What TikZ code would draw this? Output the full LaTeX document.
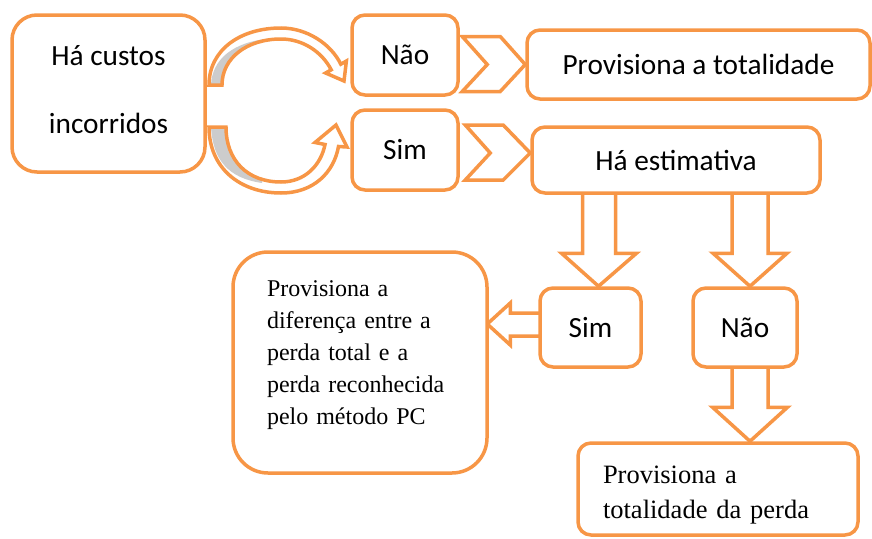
\documentclass[tikz,border=0pt]{standalone}
\usepackage{fontspec}
\newfontfamily\calibrifont{Carlito}
\newfontfamily\timesfont{Liberation Serif}
\usetikzlibrary{positioning,backgrounds}

\definecolor{boxorange}{HTML}{F79646}
\definecolor{sidegray}{HTML}{CCCCCC}

\tikzset{
  box/.style={draw=boxorange, line width=3.5pt, fill=white, rounded corners=13pt, inner sep=0pt},
  sans/.style={font=\calibrifont\fontsize{29.3}{34}\selectfont},
  rm/.style={font=\timesfont\fontsize{24}{32}\selectfont},
  blockarrow/.style={draw=boxorange, line width=3.5pt, fill=white, line join=miter},
  bandline/.style={draw=boxorange, line width=3.5pt, line join=miter},
}

\begin{document}
\begin{tikzpicture}[x=1pt,y=-1pt]
  \useasboundingbox (0,0) rectangle (872,538);

  \node[box, rounded corners=25pt, minimum width=193pt, minimum height=157pt, align=center,
        font=\calibrifont\fontsize{29.3}{68}\selectfont, text height=80pt] (costs) at (108.5,93.5) {Há custos\\incorridos};
  \node[box, sans, minimum width=106pt, minimum height=80pt] (naoTop) at (405,55) {Não};
  \node[box, sans, minimum width=106pt, minimum height=80pt, below=11.5pt of naoTop] (simTop) {Sim};
  \node[box, sans, minimum width=343pt, minimum height=69pt] (totalTop) at (698.5,64.5) {Provisiona a totalidade};
  \node[box, sans, minimum width=288pt, minimum height=66pt] (estim) at (676,160) {Há estimativa};

  \node[box, rm, rounded corners=35pt, minimum width=254pt, minimum height=221pt, text width=186pt,
        align=left, text height=2pt] (diff) at (360,362.5)
        {Provisiona a\\diferença entre a\\perda total e a\\perda reconhecida\\pelo método PC};
  \node[box, sans, minimum width=101pt, minimum height=79pt] (simLow) at (590.5,327.5) {Sim};
  \node[box, sans, minimum width=104pt, minimum height=79pt, right=48.5pt of simLow] (naoLow) {Não};
  \node[box, font=\timesfont\fontsize{26.5}{35}\selectfont, minimum width=280pt, minimum height=92pt,
        text width=230pt, align=left, text height=28.7pt] (perdaTot) at (718,489)
        {Provisiona a\\totalidade da perda};

  \begin{scope}[on background layer]
    % curved arrows out of the first box
    \path[save path=\upperband] (209,85) .. controls (209,50) and (240,28) .. (281,28)
      .. controls (307,28) and (331,44) .. (340.8,64.2) -- (346.4,61) -- (344,81) -- (325.6,73)
      -- (331.2,69.8) .. controls (322,52) and (303,39) .. (281,39)
      .. controls (247,39) and (222,58) .. (222,85) -- cycle;
    \path[save path=\lowerband] (209,127) .. controls (209,168) and (240,193) .. (281,193)
      .. controls (314,193) and (334,172) .. (338.5,146.5) -- (347,147) -- (336,125) -- (315,142.5)
      -- (325,144.5) .. controls (321,165) and (305,182) .. (281,182)
      .. controls (247,182) and (226,160) .. (226,127) -- cycle;
    \fill[white, use path=\upperband];
    \fill[white, use path=\lowerband];
    \begin{scope}
      \clip[use path=\upperband];
      \fill[sidegray] (211,85) .. controls (212,60) and (232,42) .. (270,38.5) -- (270,100) -- (211,100) -- cycle;
    \end{scope}
    \begin{scope}
      \clip[use path=\lowerband];
      \fill[sidegray] (211,120) -- (211,127) .. controls (213,160) and (228,178) .. (262,183)
        -- (262,110) -- cycle;
    \end{scope}
    \draw[bandline, use path=\upperband];
    \draw[bandline, use path=\lowerband];

    % chevrons
    \draw[blockarrow] (totalTop.west) -- ++(-25,-28) -- ++(-38,0) -- ++(25,28)
      -- ++(-25,27) -- ++(38,0) -- cycle;
    \draw[blockarrow] ([yshift=7pt]estim.west) -- ++(-27,-28) -- ++(-38,0) -- ++(25,28)
      -- ++(-25,27) -- ++(38,0) -- cycle;

    % block arrows
    \draw[blockarrow] ([xshift=8pt]simLow.north) -- ++(-37,-33) -- ++(21,0) -- ++(0,-66)
      -- ++(33,0) -- ++(0,66) -- ++(21,0) -- cycle;
    \draw[blockarrow] ([xshift=5pt]naoLow.north) -- ++(-37,-33) -- ++(19,0) -- ++(0,-66)
      -- ++(36,0) -- ++(0,66) -- ++(19,0) -- cycle;
    \draw[blockarrow] ([xshift=-51pt,yshift=3.5pt]simLow.west) -- ++(23,-21) -- ++(0,10) -- ++(40,0)
      -- ++(0,23) -- ++(-40,0) -- ++(0,9) -- cycle;
    \draw[blockarrow] ([xshift=32pt]perdaTot.north) -- ++(-37.5,-34) -- ++(19.5,0) -- ++(0,-50)
      -- ++(36,0) -- ++(0,50) -- ++(19.5,0) -- cycle;
  \end{scope}
\end{tikzpicture}
\end{document}
